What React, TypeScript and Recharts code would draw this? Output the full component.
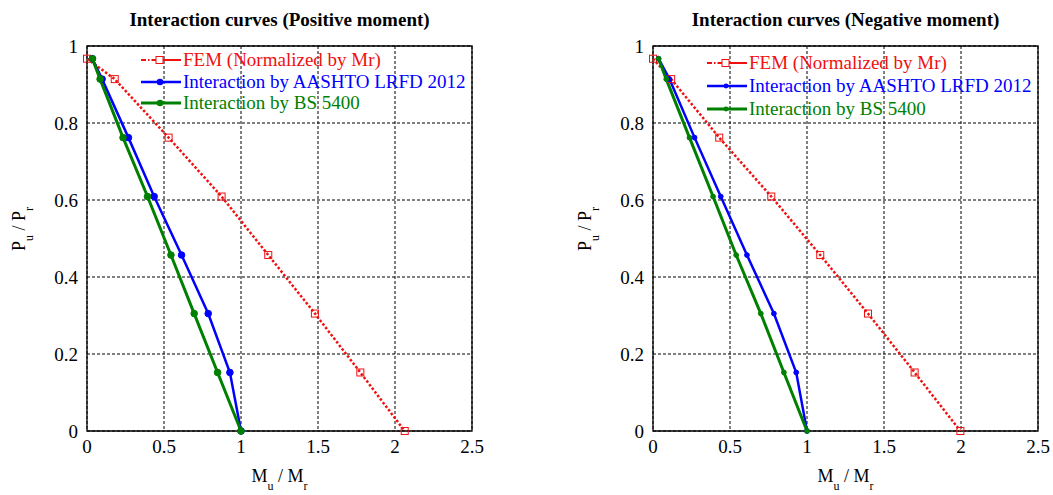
import React from 'react';
import { LineChart, Line, XAxis, YAxis, CartesianGrid, ReferenceArea, Legend, Label } from 'recharts';

// axial load levels P/Pr shared by all curves
const loadLevels = [0.967, 0.914, 0.762, 0.609, 0.457, 0.305, 0.152, 0];

// moment ratios M/Mr, positive moment
const posFem = [0, 0.18, 0.53, 0.874, 1.177, 1.48, 1.775, 2.063];
const posAashto = [0.035, 0.098, 0.269, 0.436, 0.614, 0.787, 0.928, 1.0];
const posBs = [0.035, 0.085, 0.234, 0.393, 0.545, 0.696, 0.848, 1.0];

// moment ratios M/Mr, negative moment
const negFem = [0, 0.118, 0.43, 0.768, 1.086, 1.396, 1.699, 1.996];
const negAashto = [0.036, 0.107, 0.27, 0.44, 0.61, 0.785, 0.93, 1.0];
const negBs = [0.036, 0.086, 0.237, 0.39, 0.54, 0.7, 0.85, 1.0];

const xTicks = [0, 0.5, 1, 1.5, 2, 2.5];
const yTicks = [0, 0.2, 0.4, 0.6, 0.8, 1];

const RED = '#f01010';
const BLUE = '#0000ff';
const GREEN = '#008000';
const SERIF = "'Liberation Serif', 'Times New Roman', serif";

const toPoints = (ms: number[]) => ms.map((m, i) => ({ m, p: loadLevels[i] }));

const squareDot = (props: any) => {
  const { cx, cy, index } = props;
  if (cx == null || cy == null) return <g key={`sq-${index}`} />;
  return (
    <rect key={`sq-${index}`} x={cx - 3.5} y={cy - 3.5} width={7} height={7}
      fill="none" stroke={RED} strokeWidth={1} />
  );
};

interface PanelProps {
  title: string;
  fem: number[];
  aashto: number[];
  bs: number[];
  dotR: number;
  rowH: number;
  legendTop: number;
  left: number;
}

const Panel: React.FC<PanelProps> = ({ title, fem, aashto, bs, dotR, rowH, legendTop, left }) => {
  const legendItems = [
    { label: 'FEM (Normalized by Mr)', color: RED, kind: 'fem' },
    { label: 'Interaction by AASHTO LRFD 2012', color: BLUE, kind: 'line', w: 2.5 },
    { label: 'Interaction by BS 5400', color: GREEN, kind: 'line', w: 3 },
  ];

  const renderLegend = () => (
    <div style={{ fontFamily: SERIF, fontSize: 19 }}>
      {legendItems.map((it) => (
        <div key={it.label} style={{ display: 'flex', alignItems: 'center', height: rowH }}>
          <svg width={40} height={12} style={{ display: 'block', flex: 'none' }}>
            {it.kind === 'fem' ? (
              <g>
                <line x1={0} y1={6} x2={15} y2={6} stroke={RED} strokeWidth={2} strokeDasharray="5 2 1.5 2" />
                <rect x={15} y={2.5} width={7} height={7} fill="none" stroke={RED} strokeWidth={1} />
                <line x1={22} y1={6} x2={40} y2={6} stroke={RED} strokeWidth={2} />
              </g>
            ) : (
              <g>
                <line x1={0} y1={6} x2={40} y2={6} stroke={it.color} strokeWidth={it.w} />
                <circle cx={19} cy={6} r={dotR} fill={it.color} />
              </g>
            )}
          </svg>
          <span style={{ color: it.color, marginLeft: 2, whiteSpace: 'nowrap' }}>{it.label}</span>
        </div>
      ))}
    </div>
  );

  return (
    <div style={{ position: 'absolute', left, top: 0, width: 540, height: 495 }}>
      <div style={{
        position: 'absolute', left: 0, top: 10, width: 559, textAlign: 'center',
        fontFamily: SERIF, fontWeight: 'bold', fontSize: 19, lineHeight: '20px',
      }}>
        {title}
      </div>
      <LineChart width={540} height={495} margin={{ top: 46, right: 68, bottom: 34, left: 47 }}>
        <CartesianGrid stroke="#000" strokeDasharray="3 2" strokeWidth={1} />
        <XAxis dataKey="m" type="number" domain={[0, 2.5]} ticks={xTicks} height={30}
          axisLine={false} tickLine={false} tickSize={0} tickMargin={9}
          tick={{ fill: '#000', fontSize: 19, fontFamily: SERIF }}>
          <Label content={() => (
            <text x={279.5} y={482} textAnchor="middle" fontFamily={SERIF} fontSize={18} fill="#000">
              M<tspan dy={8} fontSize={12}>u</tspan><tspan dy={-8}> / M</tspan><tspan dy={8} fontSize={12}>r</tspan>
            </text>
          )} />
        </XAxis>
        <YAxis type="number" domain={[0, 1]} ticks={yTicks} width={40}
          axisLine={false} tickLine={false} tickSize={0} tickMargin={9}
          tick={{ fill: '#000', fontSize: 19, fontFamily: SERIF }}>
          <Label content={() => (
            <text x={25} y={229} transform="rotate(-90, 25, 229)" textAnchor="middle"
              fontFamily={SERIF} fontSize={18} fill="#000">
              P<tspan dy={8} fontSize={12}>u</tspan><tspan dy={-8}> / P</tspan><tspan dy={8} fontSize={12}>r</tspan>
            </text>
          )} />
        </YAxis>
        <ReferenceArea x1={0} x2={2.5} y1={0} y2={1} fill="none" stroke="#000" strokeWidth={1.3} />
        <Legend layout="horizontal" verticalAlign="middle" align="center" content={renderLegend}
          wrapperStyle={{ left: 141, top: legendTop, width: 360, height: rowH * 3 }} />
        <Line data={toPoints(fem)} dataKey="p" type="linear" stroke={RED} strokeWidth={2.5}
          strokeDasharray="2.5 2" dot={squareDot} activeDot={false} isAnimationActive={false} />
        <Line data={toPoints(aashto)} dataKey="p" type="linear" stroke={BLUE} strokeWidth={2.5}
          dot={{ r: dotR, fill: BLUE, stroke: BLUE, strokeWidth: 1 }} activeDot={false} isAnimationActive={false} />
        <Line data={toPoints(bs)} dataKey="p" type="linear" stroke={GREEN} strokeWidth={3}
          dot={{ r: dotR, fill: GREEN, stroke: GREEN, strokeWidth: 1 }} activeDot={false} isAnimationActive={false} />
      </LineChart>
    </div>
  );
};

export default function App() {
  return (
    <div style={{ position: 'absolute', left: 0, top: 0, width: 1053, height: 495, background: '#fff' }}>
      <Panel title="Interaction curves (Positive moment)" fem={posFem} aashto={posAashto} bs={posBs}
        dotR={3.3} rowH={21.7} legendTop={49} left={0} />
      <Panel title="Interaction curves (Negative moment)" fem={negFem} aashto={negAashto} bs={negBs}
        dotR={2.4} rowH={23.3} legendTop={51} left={566} />
    </div>
  );
}
